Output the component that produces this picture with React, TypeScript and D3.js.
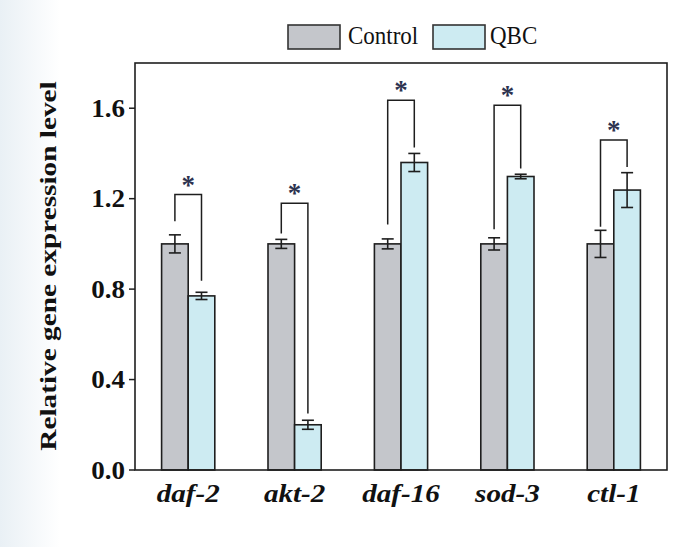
import React from "react";
import * as d3 from "d3";

const genes = ["daf-2", "akt-2", "daf-16", "sod-3", "ctl-1"];
const seriesNames = ["Control", "QBC"];
const controlValues = [1.0, 1.0, 1.0, 1.0, 1.0];
const controlErrors = [0.04, 0.02, 0.022, 0.027, 0.06];
const qbcValues = [0.77, 0.2, 1.36, 1.298, 1.238];
const qbcErrors = [0.016, 0.02, 0.04, 0.01, 0.077];
const bracketTop = [1.218, 1.18, 1.635, 1.613, 1.459];
const bracketLeftEnd = [1.1, 1.046, 1.086, 1.065, 1.076];
const bracketRightEnd = [0.837, 0.25, 1.426, 1.333, 1.34];
const yTicks = [0.0, 0.4, 0.8, 1.2, 1.6];
const yMax = 1.8;

const W = 690;
const H = 547;
const left = 135;
const right = 667;
const top = 63;
const bottom = 470;

const colors = ["#c4c6cb", "#cdebf2"];
const ink = "#1e1e1e";
const serif = "Liberation Serif";

export default function App() {
  const x = d3.scaleBand<string>().domain(genes).range([left, right]).paddingInner(0.5).paddingOuter(0.25);
  const inner = d3.scaleBand<string>().domain(seriesNames).range([0, x.bandwidth()]);
  const y = d3.scaleLinear().domain([0, yMax]).range([bottom, top]);
  const series = [
    { name: "Control", values: controlValues, errors: controlErrors },
    { name: "QBC", values: qbcValues, errors: qbcErrors },
  ];
  const capHalf = 6;

  return (
    <svg width={W} height={H} style={{ position: "absolute", left: 0, top: 0, background: "#fff" }}>
      <defs>
        <linearGradient id="bg" x1="0" x2="1" y1="0" y2="0">
          <stop offset="0" stopColor="#e9f0f5" />
          <stop offset="1" stopColor="#ffffff" />
        </linearGradient>
      </defs>
      <rect x={0} y={0} width={60} height={H} fill="url(#bg)" />

      {/* bars */}
      {series.map((s, si) =>
        genes.map((g, gi) => {
          const bx = (x(g) ?? 0) + (inner(s.name) ?? 0);
          const v = s.values[gi];
          return (
            <rect
              key={s.name + g}
              x={bx}
              y={y(v)}
              width={inner.bandwidth()}
              height={bottom - y(v)}
              fill={colors[si]}
              stroke={ink}
              strokeWidth={1.6}
            />
          );
        })
      )}

      {/* error bars */}
      {series.map((s) =>
        genes.map((g, gi) => {
          const cx = (x(g) ?? 0) + (inner(s.name) ?? 0) + inner.bandwidth() / 2;
          const v = s.values[gi];
          const e = s.errors[gi];
          return (
            <g key={"e" + s.name + g} stroke={ink} strokeWidth={1.6}>
              <line x1={cx} x2={cx} y1={y(v + e)} y2={y(v - e)} />
              <line x1={cx - capHalf} x2={cx + capHalf} y1={y(v + e)} y2={y(v + e)} />
              <line x1={cx - capHalf} x2={cx + capHalf} y1={y(v - e)} y2={y(v - e)} />
            </g>
          );
        })
      )}

      {/* significance brackets */}
      {genes.map((g, gi) => {
        const lx = (x(g) ?? 0) + (inner("Control") ?? 0) + inner.bandwidth() / 2;
        const rx = (x(g) ?? 0) + (inner("QBC") ?? 0) + inner.bandwidth() / 2;
        const yt = y(bracketTop[gi]);
        return (
          <g key={"b" + g}>
            <path
              d={`M${lx},${y(bracketLeftEnd[gi])}V${yt}H${rx}V${y(bracketRightEnd[gi])}`}
              fill="none"
              stroke={ink}
              strokeWidth={1.5}
            />
            <text
              x={(lx + rx) / 2}
              y={yt - 1}
              textAnchor="middle"
              fontFamily={serif}
              fontWeight="bold"
              fontSize={27}
              fill="#2d3350"
            >
              *
            </text>
          </g>
        );
      })}

      {/* frame */}
      <rect x={left} y={top} width={right - left} height={bottom - top} fill="none" stroke={ink} strokeWidth={1.6} />

      {/* y ticks */}
      {yTicks.map((t) => (
        <g key={"t" + t}>
          <line x1={left - 6} x2={left} y1={y(t)} y2={y(t)} stroke={ink} strokeWidth={1.5} />
          <text
            transform={`translate(${left - 10},${y(t)}) scale(1.08,1)`}
            dy="0.35em"
            textAnchor="end"
            fontFamily={serif}
            fontWeight="bold"
            fontSize={25}
            fill="#111"
          >
            {d3.format(".1f")(t)}
          </text>
        </g>
      ))}

      {/* x labels */}
      {genes.map((g) => (
        <text
          key={"xl" + g}
          transform={`translate(${(x(g) ?? 0) + x.bandwidth() / 2},502) scale(1.12,1)`}
          textAnchor="middle"
          fontFamily={serif}
          fontWeight="bold"
          fontStyle="italic"
          fontSize={26}
          fill="#111"
        >
          {g}
        </text>
      ))}

      {/* y title */}
      <text
        transform={`translate(56,266) rotate(-90) scale(1.22,1)`}
        textAnchor="middle"
        fontFamily={serif}
        fontWeight="bold"
        fontSize={24}
        fill="#111"
      >
        Relative gene expression level
      </text>

      {/* legend */}
      {seriesNames.map((n, i) => {
        const lx = [288, 433][i];
        const tx = [348, 490][i];
        return (
          <g key={"lg" + n}>
            <rect x={lx} y={25} width={52} height={24} fill={colors[i]} stroke="#333" strokeWidth={1.6} />
            <text transform={`translate(${tx},43.5) scale(1,1.08)`} fontFamily={serif} fontSize={23} fill="#111">
              {n}
            </text>
          </g>
        );
      })}
    </svg>
  );
}
